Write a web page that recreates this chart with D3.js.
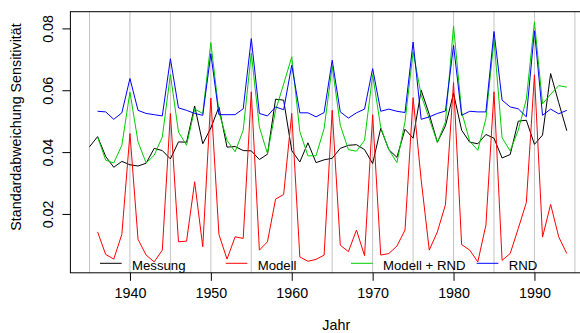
<!DOCTYPE html>
<html><head><meta charset="utf-8">
<script src="https://cdn.jsdelivr.net/npm/d3@7/dist/d3.min.js"></script>
<style>body{margin:0;background:#fff}svg{display:block}text{font-family:"Liberation Sans",Arial,sans-serif}</style>
</head><body>
<svg id="c" width="580" height="333"></svg>
<script>
const years = d3.range(1935, 1995);
const messung = [0.0417,0.0450,0.0386,0.0351,0.0370,0.0359,0.0355,0.0364,0.0412,0.0405,
 0.0378,0.0433,0.0432,0.0549,0.0427,0.0478,0.0546,0.0416,0.0418,0.0405,
 0.0404,0.0376,0.0393,0.0571,0.0568,0.0405,0.0368,0.0430,0.0366,0.0375,
 0.0380,0.0412,0.0422,0.0424,0.0408,0.0363,0.0477,0.0408,0.0383,0.0474,
 0.0445,0.0600,0.0522,0.0432,0.0485,0.0590,0.0471,0.0432,0.0427,0.0457,
 0.0445,0.0381,0.0392,0.0500,0.0503,0.0425,0.0455,0.0654,0.0560,0.0469];
const modell = [null,0.0142,0.0069,0.0054,0.0134,0.0460,0.0118,0.0067,0.0045,0.0083,
 0.0525,0.0110,0.0112,0.0304,0.0094,0.0575,0.0134,0.0054,0.0126,0.0121,
 0.0595,0.0083,0.0110,0.0248,0.0263,0.0525,0.0061,0.0047,0.0053,0.0067,
 0.0535,0.0099,0.0078,0.0148,0.0065,0.0521,0.0067,0.0072,0.0096,0.0148,
 0.0576,0.0310,0.0083,0.0142,0.0230,0.0625,0.0101,0.0083,0.0045,0.0164,
 0.0595,0.0050,0.0072,0.0153,0.0237,0.0650,0.0125,0.0231,0.0126,0.0072];
const modellRnd = [null,0.0449,0.0374,0.0365,0.0422,0.0594,0.0433,0.0365,0.0390,0.0449,
 0.0651,0.0465,0.0422,0.0539,0.0525,0.0754,0.0530,0.0438,0.0401,0.0471,
 0.0720,0.0481,0.0395,0.0535,0.0620,0.0708,0.0466,0.0388,0.0388,0.0476,
 0.0678,0.0487,0.0408,0.0403,0.0438,0.0650,0.0480,0.0408,0.0366,0.0498,
 0.0724,0.0584,0.0508,0.0431,0.0498,0.0808,0.0530,0.0435,0.0406,0.0508,
 0.0764,0.0446,0.0404,0.0471,0.0571,0.0821,0.0556,0.0587,0.0615,0.0610];
const rnd = [null,0.0532,0.0530,0.0506,0.0527,0.0638,0.0535,0.0525,0.0521,0.0517,
 0.0702,0.0543,0.0535,0.0525,0.0519,0.0718,0.0521,0.0521,0.0521,0.0540,
 0.0767,0.0525,0.0517,0.0546,0.0537,0.0681,0.0527,0.0527,0.0514,0.0528,
 0.0697,0.0530,0.0510,0.0527,0.0539,0.0670,0.0532,0.0539,0.0532,0.0528,
 0.0756,0.0506,0.0514,0.0525,0.0533,0.0745,0.0519,0.0532,0.0530,0.0530,
 0.0790,0.0568,0.0546,0.0540,0.0514,0.0792,0.0519,0.0539,0.0524,0.0535];
const seriesNames = ["Messung","Modell","Modell + RND","RND"];
const seriesColors = ["#000000","#ff0000","#00cd00","#0000ff"];
const xTicks = [1940,1950,1960,1970,1980,1990];
const yTicks = [0.02,0.04,0.06,0.08];
const gridYears = d3.range(1935, 2000, 5);

const svg = d3.select("#c");
const L = 70.4, R = 585.9, T = 11.7, B = 272.8;
const x = d3.scaleLinear().domain([1932.64, 1996.36]).range([L, R]);
const y = d3.scaleLinear().domain([0.00097, 0.0854]).range([B, T]);

// grid lines
svg.append("g").selectAll("line").data(gridYears).join("line")
  .attr("x1", d => x(d)).attr("x2", d => x(d)).attr("y1", T).attr("y2", B)
  .attr("stroke", "#c4c4c4").attr("stroke-width", 1);

const all = [messung, modell, modellRnd, rnd];
const line = d3.line().defined(d => d[1] != null).x(d => x(d[0])).y(d => y(d[1]));
all.forEach((s, i) => {
  svg.append("path").datum(years.map((yr, j) => [yr, s[j]]))
    .attr("d", line).attr("fill", "none").attr("stroke", seriesColors[i])
    .attr("stroke-width", 1).attr("stroke-linejoin", "round");
});

// box
svg.append("rect").attr("x", L).attr("y", T).attr("width", R - L).attr("height", B - T)
  .attr("fill", "none").attr("stroke", "#000").attr("stroke-width", 1);

// axes
const xAxis = d3.axisBottom(x).tickValues(xTicks).tickSize(8).tickPadding(7).tickFormat(d3.format("d"));
const gx = svg.append("g").attr("transform", `translate(0,${B})`).call(xAxis);
gx.select(".domain").remove();
gx.selectAll("text").attr("font-size", "14.3px").attr("font-family", "Liberation Sans, Arial, sans-serif").attr("fill", "#000");

const yAxis = d3.axisLeft(y).tickValues(yTicks).tickSize(8).tickFormat(d3.format(".2f"));
const gy = svg.append("g").attr("transform", `translate(${L},0)`).call(yAxis);
gy.select(".domain").remove();
gy.selectAll(".tick text").attr("font-size", "14.3px").attr("font-family", "Liberation Sans, Arial, sans-serif").attr("fill", "#000")
  .attr("x", null).attr("dy", null).attr("text-anchor", "middle")
  .attr("transform", "translate(-17,0) rotate(-90)").attr("dy", "0em");

// titles
svg.append("text").attr("x", x(1965.5)).attr("y", 330).attr("text-anchor", "middle")
  .attr("font-size", "14.3px").text("Jahr");
svg.append("text").attr("transform", "translate(21,127) rotate(-90)").attr("text-anchor", "middle")
  .attr("font-size", "14.3px").text("Standardabweichung Sensitivität");

// legend
const legX = [100, 225.7, 351, 476.7];
const lg = svg.append("g");
seriesNames.forEach((n, i) => {
  lg.append("line").attr("x1", legX[i]).attr("x2", legX[i] + 21.7).attr("y1", 263.3).attr("y2", 263.3)
    .attr("stroke", seriesColors[i]).attr("stroke-width", 1);
  lg.append("text").attr("x", legX[i] + 32).attr("y", 270.2).attr("font-size", "13.2px").text(n);
});
</script>
</body></html>
